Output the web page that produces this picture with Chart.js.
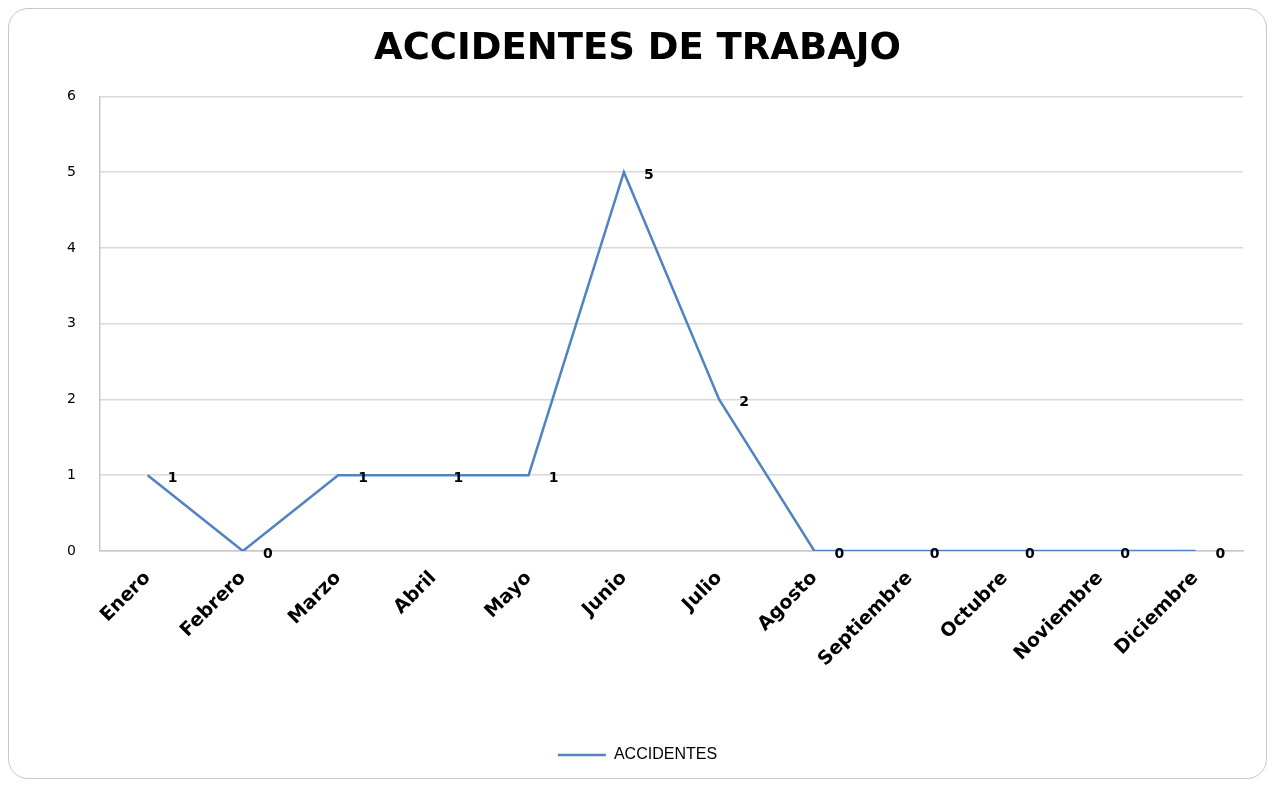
<!DOCTYPE html>
<html>
<head>
<meta charset="utf-8">
<script src="https://cdn.jsdelivr.net/npm/chart.js@4/dist/chart.umd.min.js"></script>
<style>
  html, body { margin: 0; padding: 0; background: #fff; }
  #wrap { position: relative; width: 1275px; height: 785px; }
  #box {
    position: absolute; left: 8px; top: 8px; width: 1259px; height: 771px;
    border: 1.5px solid #c8c8c8; border-radius: 20px; box-sizing: border-box;
  }
  #chart { position: absolute; left: 0; top: 0; }
</style>
</head>
<body>
<div id="wrap">
  <div id="box"></div>
  <canvas id="chart" width="1275" height="785"></canvas>
</div>
<script>
// datos del grafico
const meses = ["Enero", "Febrero", "Marzo", "Abril", "Mayo", "Junio", "Julio",
  "Agosto", "Septiembre", "Octubre", "Noviembre", "Diciembre"];
const accidentes = [1, 0, 1, 1, 1, 5, 2, 0, 0, 0, 0, 0];
const yTicks = [0, 1, 2, 3, 4, 5, 6];

// etiquetas de valor a la derecha de cada punto
const valueLabels = {
  id: "valueLabels",
  afterDatasetsDraw(chart) {
    const ctx = chart.ctx;
    const meta = chart.getDatasetMeta(0);
    ctx.save();
    ctx.font = "bold 14px 'DejaVu Sans'";
    ctx.fillStyle = "#000";
    ctx.textAlign = "left";
    ctx.textBaseline = "middle";
    meta.data.forEach((pt, i) => {
      ctx.fillText(String(accidentes[i]), pt.x + 20, pt.y + 3);
    });
    ctx.restore();
  }
};

const ctx = document.getElementById("chart").getContext("2d");
new Chart(ctx, {
  type: "line",
  data: {
    labels: meses,
    datasets: [{
      label: "ACCIDENTES",
      data: accidentes,
      borderColor: "#5083c2",
      backgroundColor: "#5083c2",
      borderWidth: 2.5,
      pointRadius: 0,
      tension: 0,
      fill: false
    }]
  },
  options: {
    responsive: false,
    animation: false,
    layout: { padding: { left: 32, right: 32, top: 27, bottom: 12 } },
    plugins: {
      title: {
        display: true,
        text: "ACCIDENTES DE TRABAJO",
        color: "#000",
        font: { family: "'DejaVu Sans'", size: 37, weight: "bold" },
        padding: { top: 0, bottom: 25 }
      },
      legend: {
        position: "bottom",
        labels: {
          usePointStyle: true,
          pointStyle: "line",
          pointStyleWidth: 48,
          color: "#000",
          font: { family: "'Liberation Sans'", size: 16 },
          padding: 4
        }
      },
      tooltip: { enabled: false }
    },
    scales: {
      x: {
        offset: true,
        grid: { display: false, drawTicks: false },
        border: { display: true, color: "#c8c8c8", width: 1.5 },
        ticks: {
          color: "#000",
          font: { family: "'DejaVu Sans'", size: 19, weight: "bold" },
          maxRotation: 45,
          minRotation: 45,
          autoSkip: false,
          padding: 16
        },
        afterFit(scale) { scale.height = 192; }
      },
      y: {
        min: 0,
        max: 6,
        afterBuildTicks(scale) { scale.ticks = yTicks.map(v => ({ value: v })); },
        grid: { color: "#d9d9d9", lineWidth: 1.5, drawTicks: false },
        border: { display: true, color: "#c8c8c8", width: 1.5 },
        ticks: {
          color: "#000",
          font: { family: "'DejaVu Sans'", size: 14 },
          padding: 24
        },
        afterFit(scale) { scale.width = 68; }
      }
    }
  },
  plugins: [valueLabels]
});
</script>
</body>
</html>
